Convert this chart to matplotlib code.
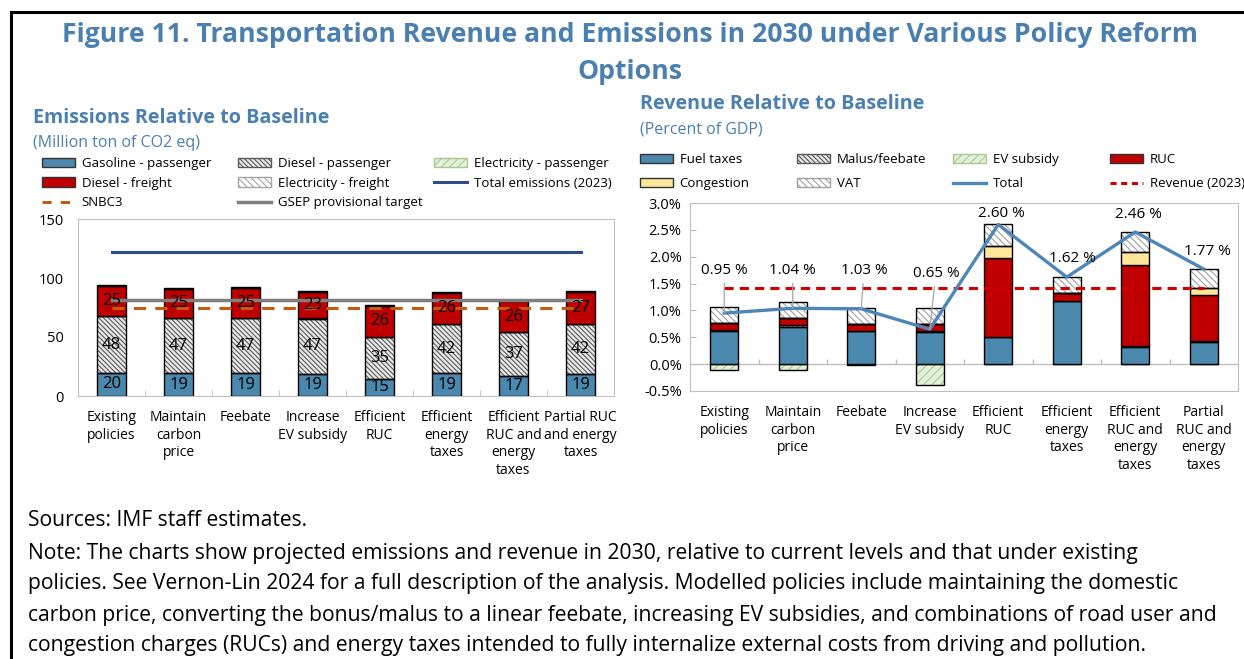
import numpy as np
import matplotlib.pyplot as plt
from matplotlib.patches import Patch
from matplotlib.lines import Line2D

# fonts and hatch style
plt.rcParams['font.family'] = ['Open Sans', 'DejaVu Sans']
plt.rcParams['hatch.linewidth'] = 0.8

W, H = 1244, 659
def fx(px):
    return px / W
def fy(py):
    return 1 - py / H

# ---- data: emissions (million ton CO2 eq) ----
cats_left = ["Existing\npolicies", "Maintain\ncarbon\nprice", "Feebate", "Increase\nEV subsidy",
             "Efficient\nRUC", "Efficient\nenergy\ntaxes", "Efficient\nRUC and\nenergy\ntaxes",
             "Partial RUC\nand energy\ntaxes"]
gasoline_pass = [19.6, 19.2, 19.2, 18.8, 14.8, 19.1, 17.0, 18.8]
diesel_pass = [48.0, 46.6, 47.0, 46.6, 35.2, 41.8, 37.2, 41.9]
elec_pass = [0.3, 0.3, 0.3, 0.3, 0.3, 0.3, 0.3, 0.3]
diesel_freight = [25.2, 24.8, 25.1, 22.8, 26.2, 26.3, 25.6, 27.1]
elec_freight = [0.8, 0.8, 0.8, 0.8, 0.8, 0.8, 0.8, 0.8]
total_2023 = 122
snbc3 = 75
gsep_target = 81

# ---- data: revenue (percent of GDP) ----
cats_right = ["Existing\npolicies", "Maintain\ncarbon\nprice", "Feebate", "Increase\nEV subsidy",
              "Efficient\nRUC", "Efficient\nenergy\ntaxes", "Efficient\nRUC and\nenergy\ntaxes",
              "Partial\nRUC and\nenergy\ntaxes"]
fuel_taxes = [0.61, 0.70, 0.61, 0.60, 0.50, 1.17, 0.31, 0.41]
malus = [0.02, 0.02, 0.01, 0.01, 0.01, 0.01, 0.02, 0.02]
ev_subsidy = [-0.11, -0.11, -0.01, -0.39, 0.0, 0.0, 0.0, 0.0]
ruc = [0.14, 0.14, 0.13, 0.14, 1.46, 0.14, 1.51, 0.85]
congestion = [0.0, 0.0, 0.0, 0.0, 0.23, 0.0, 0.24, 0.14]
vat = [0.29, 0.29, 0.29, 0.29, 0.40, 0.30, 0.38, 0.35]
total_rev = [0.95, 1.04, 1.03, 0.65, 2.60, 1.62, 2.46, 1.77]
rev_2023 = 1.41
label_y = [1.75, 1.75, 1.74, 1.69, 2.81, 1.96, 2.79, 2.09]
label_dx = [0.0, 0.0, 0.04, 0.09, 0.05, 0.09, 0.04, 0.06]

blue = '#4a88ad'
red = '#c00000'
title_col = '#4a7fb0'
grid_col = '#bfbfbf'
dense = '\\' * 7
light = '\\' * 5

fig = plt.figure(figsize=(12.44, 6.59), dpi=100)

# frame lines of the box
fig.add_artist(Line2D([fx(11), fx(11)], [0, fy(12)], color='black', lw=2.2))
fig.add_artist(Line2D([fx(11), 1], [fy(12), fy(12)], color='black', lw=2.2))

fig.text(fx(630), fy(35), "Figure 11. Transportation Revenue and Emissions in 2030 under Various Policy Reform",
         ha='center', va='center', fontsize=19.2, fontweight='bold', color=title_col)
fig.text(fx(630), fy(72), "Options", ha='center', va='center', fontsize=19.2, fontweight='bold', color=title_col)


def seg(ax, x, h, b, fc, hatch=None, hc=None, w=0.42):
    if hatch:
        ax.bar(x, h, w, bottom=b, color=fc, edgecolor=hc, hatch=hatch, linewidth=0, zorder=2)
        ax.bar(x, h, w, bottom=b, fill=False, edgecolor='black', linewidth=1, zorder=3)
    else:
        ax.bar(x, h, w, bottom=b, color=fc, edgecolor='black', linewidth=1, zorder=3)


# ================= left chart =================
axl = fig.add_axes([fx(78), fy(396), fx(614) - fx(78), fy(219) - fy(396)])
xl = np.arange(len(cats_left))
b = np.zeros(len(xl))
seg(axl, xl, gasoline_pass, b, blue)
b = b + np.array(gasoline_pass)
seg(axl, xl, diesel_pass, b, '#e8e8e8', dense, '#5a5a5a')
b = b + np.array(diesel_pass)
seg(axl, xl, elec_pass, b, '#e2efda', '////', '#a9c98e')
b = b + np.array(elec_pass)
seg(axl, xl, diesel_freight, b, red)
b = b + np.array(diesel_freight)
seg(axl, xl, elec_freight, b, 'white', light, '#a6a6a6')

for i in xl:
    axl.text(i, gasoline_pass[i] / 2, f"{gasoline_pass[i]:.0f}", ha='center', va='center', fontsize=12, zorder=5)
    axl.text(i, gasoline_pass[i] + diesel_pass[i] / 2, f"{diesel_pass[i]:.0f}", ha='center', va='center',
             fontsize=12, zorder=5)
    base = gasoline_pass[i] + diesel_pass[i] + elec_pass[i]
    axl.text(i, base + diesel_freight[i] / 2, f"{diesel_freight[i]:.0f}", ha='center', va='center',
             fontsize=12, zorder=5)

axl.plot([xl[0], xl[-1]], [total_2023] * 2, color='#2f4b8c', lw=2.2, zorder=4)
axl.plot([xl[0], xl[-1]], [gsep_target] * 2, color='#7f7f7f', lw=2.5, zorder=4)
axl.plot([xl[0], xl[-1]], [snbc3] * 2, color='#c55a11', lw=2.2, ls=(0, (4, 3)), zorder=4)

axl.set_xlim(-0.5, 7.5)
axl.set_ylim(0, 150)
axl.set_yticks([0, 50, 100, 150])
axl.set_xticks(xl)
axl.set_xticklabels(cats_left, fontsize=10, linespacing=1.25, va='top')
axl.set_xticks(np.arange(0.5, 7.5, 1), minor=True)
axl.tick_params(axis='x', which='major', length=0, pad=10)
axl.tick_params(axis='x', which='minor', direction='in', length=4, color=grid_col)
axl.tick_params(axis='y', length=0, pad=10, labelsize=10.5)
for s in axl.spines.values():
    s.set_color(grid_col)

fig.text(fx(33), fy(118), "Emissions Relative to Baseline", ha='left', va='center', fontsize=14.2,
         fontweight='bold', color=title_col)
fig.text(fx(33), fy(143), "(Million ton of CO2 eq)", ha='left', va='center', fontsize=11.5, color=title_col)

h_gas = Patch(facecolor=blue, edgecolor='#333333', label='Gasoline - passenger')
h_dp = Patch(facecolor='#e8e8e8', edgecolor='#5a5a5a', hatch=dense, label='Diesel - passenger')
h_ep = Patch(facecolor='#e2efda', edgecolor='#a9c98e', hatch='////', label='Electricity - passenger')
h_df = Patch(facecolor=red, edgecolor='#333333', label='Diesel - freight')
h_ef = Patch(facecolor='white', edgecolor='#a6a6a6', hatch=light, label='Electricity - freight')
h_tot = Line2D([], [], color='#2f4b8c', lw=2.2, label='Total emissions (2023)')
h_snbc = Line2D([], [], color='#c55a11', lw=2.2, ls=(0, (3, 3)), label='SNBC3')
h_gsep = Line2D([], [], color='#7f7f7f', lw=2.5, label='GSEP provisional target')

leg_kw = dict(loc='upper left', frameon=False, fontsize=9.5, borderpad=0, borderaxespad=0,
              handlelength=2.5, handleheight=0.7, handletextpad=0.5)
fig.legend(handles=[h_gas, h_df, h_snbc], bbox_to_anchor=(fx(42), fy(157)), labelspacing=0.5, **leg_kw)
fig.legend(handles=[h_dp, h_ef, h_gsep], bbox_to_anchor=(fx(238), fy(157)), labelspacing=0.5, **leg_kw)
fig.legend(handles=[h_ep, h_tot], bbox_to_anchor=(fx(434), fy(157)), labelspacing=0.5, **leg_kw)

# ================= right chart =================
axr = fig.add_axes([fx(690), fy(391), fx(1238) - fx(690), fy(203) - fy(391)])
xr = np.arange(len(cats_right))
ev = np.array(ev_subsidy)
seg(axr, xr, ev, np.zeros(len(xr)), '#e2efda', '////', '#a9c98e', w=0.41)
b = np.zeros(len(xr))
seg(axr, xr, fuel_taxes, b, blue, w=0.41)
b = b + np.array(fuel_taxes)
seg(axr, xr, malus, b, '#e8e8e8', dense, '#5a5a5a', w=0.41)
b = b + np.array(malus)
seg(axr, xr, ruc, b, red, w=0.41)
b = b + np.array(ruc)
seg(axr, xr, congestion, b, '#ffe699', w=0.41)
b = b + np.array(congestion)
seg(axr, xr, vat, b, 'white', light, '#a0a0a0', w=0.41)

axr.axhline(0, color=grid_col, lw=1, zorder=1)
axr.vlines(np.arange(0.5, 7.5, 1), 0, 0.1, colors=grid_col, lw=1, zorder=1)
axr.plot([xr[0], xr[-1]], [rev_2023] * 2, color='#d00000', lw=2.2, ls=(0, (3, 2)), zorder=4)
axr.plot(xr, total_rev, color='#4f86b8', lw=2.4, zorder=5)

for i in xr:
    txt = f"{total_rev[i]:.2f} %"
    if i < 4:
        axr.annotate(txt, xy=(i, total_rev[i]), xytext=(i + label_dx[i], label_y[i]), ha='center', va='center',
                     fontsize=11, zorder=6,
                     arrowprops=dict(arrowstyle='-', color='#a6a6a6', lw=0.9, shrinkA=2, shrinkB=0))
    else:
        axr.text(i + label_dx[i], label_y[i], txt, ha='center', va='center', fontsize=11, zorder=6)

axr.set_xlim(-0.5, 7.5)
axr.set_ylim(-0.5, 3.0)
yt = np.arange(-0.5, 3.01, 0.5)
axr.set_yticks(yt)
axr.set_yticklabels([f"{v:.1f}%" for v in yt])
axr.set_xticks(xr)
axr.set_xticklabels(cats_right, fontsize=10, linespacing=1.25, va='top')
axr.tick_params(axis='x', length=0, pad=10)
axr.tick_params(axis='y', direction='in', length=4, color=grid_col, pad=6, labelsize=10.5)
for s in axr.spines.values():
    s.set_color(grid_col)

fig.text(fx(640), fy(104), "Revenue Relative to Baseline", ha='left', va='center', fontsize=14.2,
         fontweight='bold', color=title_col)
fig.text(fx(640), fy(130), "(Percent of GDP)", ha='left', va='center', fontsize=11.5, color=title_col)

r_fuel = Patch(facecolor=blue, edgecolor='#333333', label='Fuel taxes')
r_malus = Patch(facecolor='#e8e8e8', edgecolor='#5a5a5a', hatch=dense, label='Malus/feebate')
r_ev = Patch(facecolor='#e2efda', edgecolor='#a9c98e', hatch='////', label='EV subsidy')
r_ruc = Patch(facecolor=red, edgecolor='#333333', label='RUC')
r_cong = Patch(facecolor='#ffe699', edgecolor='#333333', label='Congestion')
r_vat = Patch(facecolor='white', edgecolor='#a0a0a0', hatch=light, label='VAT')
r_tot = Line2D([], [], color='#4f86b8', lw=2.4, label='Total')
r_rev = Line2D([], [], color='#d00000', lw=2.2, ls=(0, (2, 1.5)), label='Revenue (2023)')

fig.legend(handles=[r_fuel, r_cong], bbox_to_anchor=(fx(640), fy(153)), labelspacing=0.85, **leg_kw)
fig.legend(handles=[r_malus, r_vat], bbox_to_anchor=(fx(797), fy(153)), labelspacing=0.85, **leg_kw)
fig.legend(handles=[r_ev, r_tot], bbox_to_anchor=(fx(953), fy(153)), labelspacing=0.85, **leg_kw)
fig.legend(handles=[r_ruc, r_rev], bbox_to_anchor=(fx(1110), fy(153)), labelspacing=0.85, **leg_kw)

# ================= notes =================
notes = [
    "Sources: IMF staff estimates.",
    "Note: The charts show projected emissions and revenue in 2030, relative to current levels and that under existing",
    "policies. See Vernon-Lin 2024 for a full description of the analysis. Modelled policies include maintaining the domestic",
    "carbon price, converting the bonus/malus to a linear feebate, increasing EV subsidies, and combinations of road user and",
    "congestion charges (RUCs) and energy taxes intended to fully internalize external costs from driving and pollution.",
]
note_y = [520, 553, 584, 615, 646]
for t, y in zip(notes, note_y):
    fig.text(fx(28), fy(y), t, ha='left', va='center', fontsize=15.2, color='black')

fig.savefig('out.png', dpi=100)
